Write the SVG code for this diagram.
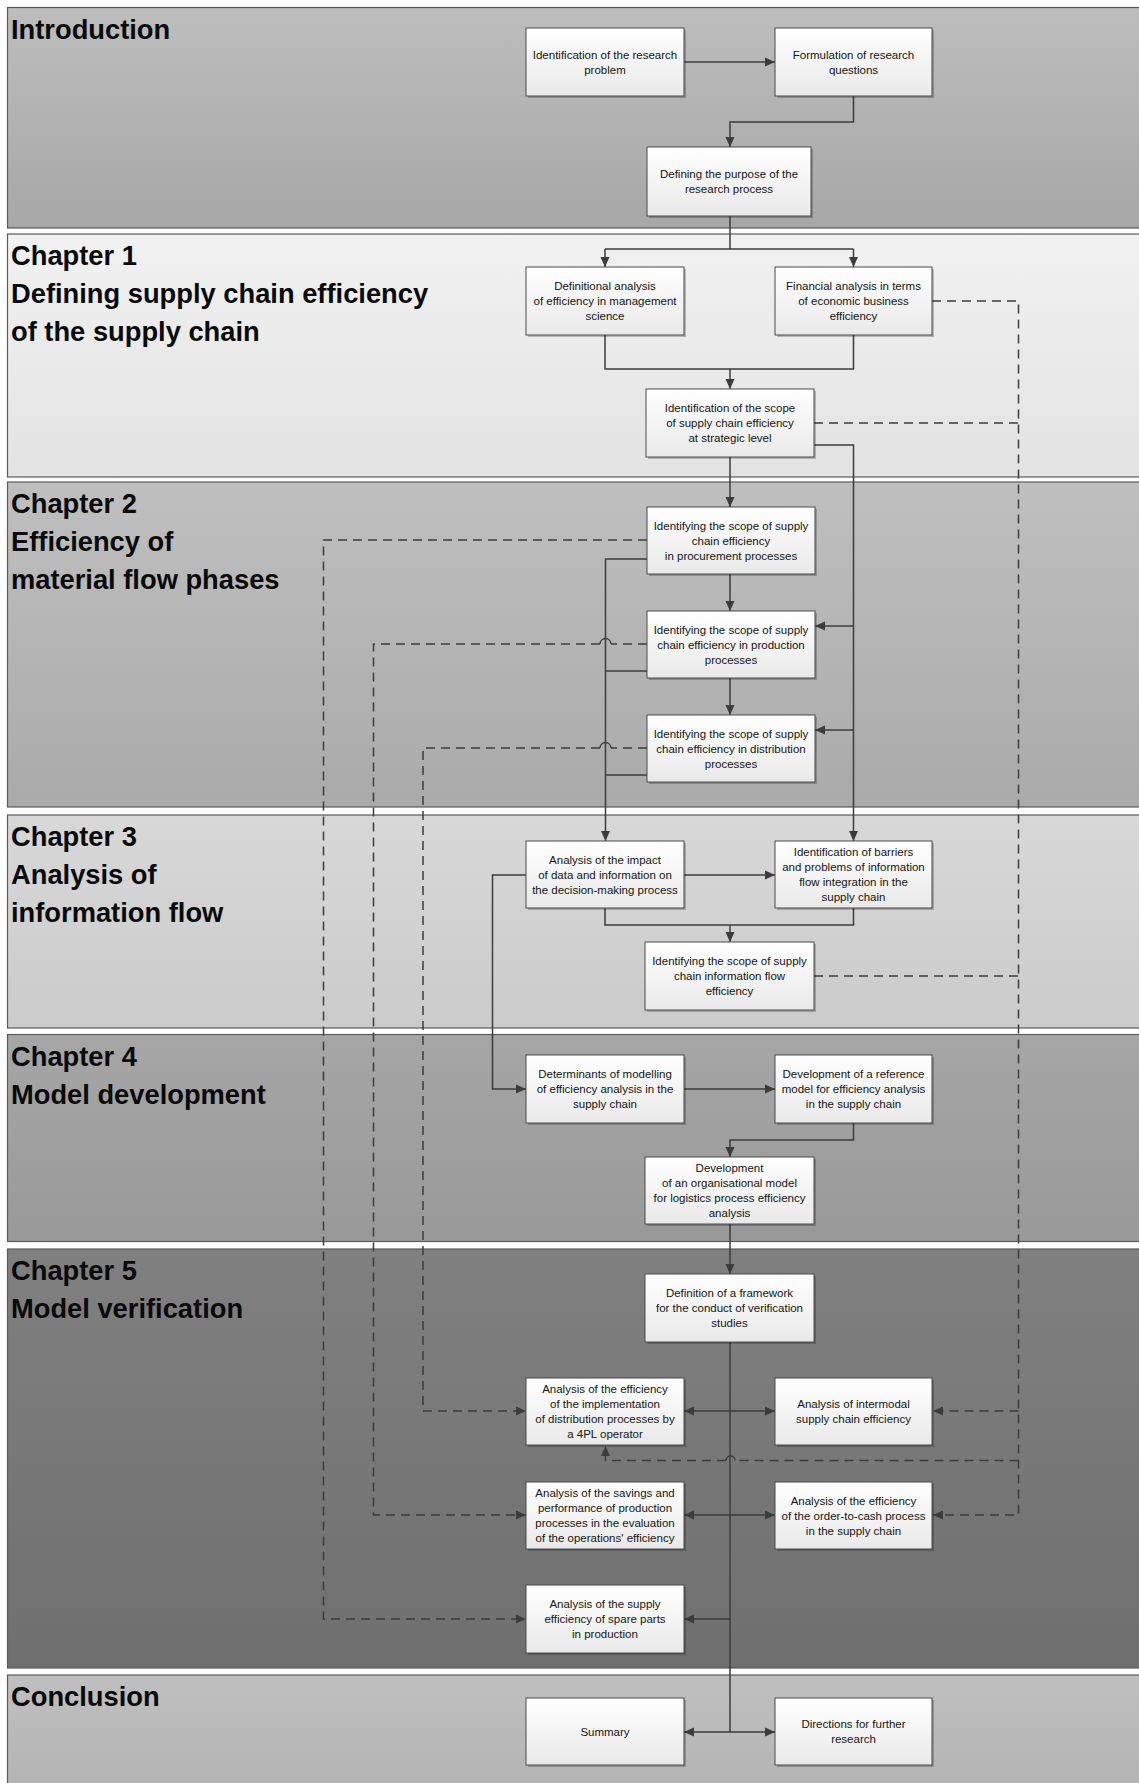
<svg xmlns="http://www.w3.org/2000/svg" width="1139" height="1783" viewBox="0 0 1139 1783">
<style>
.band{stroke:#5a5a5a;stroke-width:1.2}
.title{font-family:"Liberation Sans",Arial,sans-serif;font-weight:bold;font-size:27.3px;fill:#0a0a0a}
.box{fill:url(#gBox);stroke:#4a4a4a;stroke-width:1}
.shadow{fill:#000;opacity:0.22}
.lbl{font-family:"Liberation Sans",Arial,sans-serif;font-size:11.5px;fill:#151515;text-anchor:middle}
.c{fill:none;stroke:#3c3c3c;stroke-width:1.5}
.d{fill:none;stroke:#3c3c3c;stroke-width:1.5;stroke-dasharray:9 6}
.hop{fill:none;stroke:#3c3c3c;stroke-width:1.3}
.a{marker-end:url(#arr)}
</style>
<defs>
<marker id="arr" viewBox="0 0 10 10" refX="10" refY="5" markerWidth="10" markerHeight="10" markerUnits="userSpaceOnUse" orient="auto">
<path d="M0,0.5 L10,5 L0,9.5 z" fill="#3c3c3c"/>
</marker>
<linearGradient id="gBox" x1="0" y1="0" x2="0" y2="1"><stop offset="0" stop-color="#ffffff"/><stop offset="1" stop-color="#e9e9e9"/></linearGradient>
<linearGradient id="gIntro" x1="0" y1="0" x2="0" y2="1"><stop offset="0" stop-color="#bdbdbd"/><stop offset="1" stop-color="#a7a7a7"/></linearGradient>
<linearGradient id="gC1" x1="0" y1="0" x2="0" y2="1"><stop offset="0" stop-color="#f1f1f1"/><stop offset="1" stop-color="#e3e3e3"/></linearGradient>
<linearGradient id="gC2" x1="0" y1="0" x2="0" y2="1"><stop offset="0" stop-color="#bfbfbf"/><stop offset="1" stop-color="#aaaaaa"/></linearGradient>
<linearGradient id="gC3" x1="0" y1="0" x2="0" y2="1"><stop offset="0" stop-color="#d8d8d8"/><stop offset="1" stop-color="#cbcbcb"/></linearGradient>
<linearGradient id="gC4" x1="0" y1="0" x2="0" y2="1"><stop offset="0" stop-color="#a6a6a6"/><stop offset="1" stop-color="#999999"/></linearGradient>
<linearGradient id="gC5" x1="0" y1="0" x2="0" y2="1"><stop offset="0" stop-color="#808080"/><stop offset="1" stop-color="#6f6f6f"/></linearGradient>
<linearGradient id="gCon" x1="0" y1="0" x2="0" y2="1"><stop offset="0" stop-color="#bfbfbf"/><stop offset="1" stop-color="#b3b3b3"/></linearGradient>
</defs>
<rect x="0" y="0" width="1139" height="1783" fill="#ffffff"/>

<g id="lanes">
<g id="lane-intro"><rect class="band" x="7.5" y="7.5" width="1140" height="220.5" fill="url(#gIntro)"/><text class="title" x="11" y="39">Introduction</text></g>
<g id="lane-ch1"><rect class="band" x="7.5" y="234" width="1140" height="243" fill="url(#gC1)"/><text class="title" x="11" y="265">Chapter 1</text><text class="title" x="11" y="303">Defining supply chain efficiency</text><text class="title" x="11" y="341">of the supply chain</text></g>
<g id="lane-ch2"><rect class="band" x="7.5" y="482" width="1140" height="325" fill="url(#gC2)"/><text class="title" x="11" y="513">Chapter 2</text><text class="title" x="11" y="551">Efficiency of</text><text class="title" x="11" y="589">material flow phases</text></g>
<g id="lane-ch3"><rect class="band" x="7.5" y="815" width="1140" height="213" fill="url(#gC3)"/><text class="title" x="11" y="846">Chapter 3</text><text class="title" x="11" y="884">Analysis of</text><text class="title" x="11" y="922">information flow</text></g>
<g id="lane-ch4"><rect class="band" x="7.5" y="1034.5" width="1140" height="207" fill="url(#gC4)"/><text class="title" x="11" y="1066">Chapter 4</text><text class="title" x="11" y="1104">Model development</text></g>
<g id="lane-ch5"><rect class="band" x="7.5" y="1249" width="1140" height="419" fill="url(#gC5)"/><text class="title" x="11" y="1280">Chapter 5</text><text class="title" x="11" y="1318">Model verification</text></g>
<g id="lane-concl"><rect class="band" x="7.5" y="1675" width="1140" height="120" fill="url(#gCon)"/><text class="title" x="11" y="1706">Conclusion</text></g>
</g>

<g id="connectors">
<path class="c a" d="M684,62 H775"/>
<path class="c a" d="M853.5,96 V122 H730 V147"/>
<path class="c" d="M730,216 V249 M605,249 H853.5"/>
<path class="c a" d="M605,249 V267"/>
<path class="c a" d="M853.5,249 V267"/>
<path class="c" d="M605,335 V369 H853.5 V335"/>
<path class="c a" d="M730,369 V389"/>
<path class="c a" d="M730,457 V507"/>
<path class="c a" d="M814,445 H853.5 V841"/>
<path class="c a" d="M853.5,626 H815"/>
<path class="c a" d="M853.5,730 H815"/>
<path class="c a" d="M730,574 V611"/>
<path class="c a" d="M730,678 V715"/>
<path class="c a" d="M647,559 H605.5 V841"/>
<path class="c" d="M647,671 H605.5"/>
<path class="c" d="M647,775 H605.5"/>
<path class="c a" d="M684,875 H775"/>
<path class="c a" d="M526,875 H492.5 V1089 H526"/>
<path class="c" d="M605,908 V925 H853.5 V908"/>
<path class="c a" d="M730,925 V942"/>
<path class="c a" d="M684,1089 H775"/>
<path class="c a" d="M853.5,1123 V1140 H730 V1157"/>
<path class="c a" d="M730,1224 V1274"/>
<path class="c" d="M730,1342 V1732"/>
<path class="c a" d="M730,1411 H684"/>
<path class="c a" d="M730,1411 H775"/>
<path class="c a" d="M730,1515 H684"/>
<path class="c a" d="M730,1515 H775"/>
<path class="c a" d="M730,1619 H684"/>
<path class="c a" d="M730,1732 H684"/>
<path class="c a" d="M730,1732 H775"/>

<path class="d a" d="M932,301 H1018.5 V1515 H933"/>
<path class="d" d="M814,423 H1018.5"/>
<path class="d" d="M814,976 H1018.5"/>
<path class="d a" d="M1018.5,1411 H933"/>
<path class="d" d="M1018.5,1460.5 H735"/>
<path class="hop" d="M735,1460.5 A4.5,4.5 0 0 0 726,1460.5"/>
<path class="d a" d="M726,1460.5 H605.5 V1446"/>
<path class="d a" d="M647,540 H323.5 V1619 H526"/>
<path class="d" d="M647,644 H611"/>
<path class="hop" d="M611,644 A5,5 0 0 0 600,644"/>
<path class="d a" d="M600,644 H373.5 V1515 H526"/>
<path class="d" d="M647,748 H611"/>
<path class="hop" d="M611,748 A5,5 0 0 0 600,748"/>
<path class="d a" d="M600,748 H423 V1411 H526"/>
</g>

<g id="n1"><rect class="shadow" x="528" y="30" width="158" height="68"/><rect class="box" x="526" y="28" width="158" height="68"/><text class="lbl"><tspan x="605" y="58.5">Identification of the research</tspan><tspan x="605" y="73.5">problem</tspan></text></g>
<g id="n2"><rect class="shadow" x="777" y="30" width="157" height="68"/><rect class="box" x="775" y="28" width="157" height="68"/><text class="lbl"><tspan x="853.5" y="58.5">Formulation of research</tspan><tspan x="853.5" y="73.5">questions</tspan></text></g>
<g id="n3"><rect class="shadow" x="649" y="149" width="164" height="69"/><rect class="box" x="647" y="147" width="164" height="69"/><text class="lbl"><tspan x="729" y="178">Defining the purpose of the</tspan><tspan x="729" y="193">research process</tspan></text></g>
<g id="n4"><rect class="shadow" x="528" y="269" width="158" height="68"/><rect class="box" x="526" y="267" width="158" height="68"/><text class="lbl"><tspan x="605" y="290">Definitional analysis</tspan><tspan x="605" y="305">of efficiency in management</tspan><tspan x="605" y="320">science</tspan></text></g>
<g id="n5"><rect class="shadow" x="777" y="269" width="157" height="68"/><rect class="box" x="775" y="267" width="157" height="68"/><text class="lbl"><tspan x="853.5" y="290">Financial analysis in terms</tspan><tspan x="853.5" y="305">of economic business</tspan><tspan x="853.5" y="320">efficiency</tspan></text></g>
<g id="n6"><rect class="shadow" x="648" y="391" width="168" height="68"/><rect class="box" x="646" y="389" width="168" height="68"/><text class="lbl"><tspan x="730" y="412">Identification of the scope</tspan><tspan x="730" y="427">of supply chain efficiency</tspan><tspan x="730" y="442">at strategic level</tspan></text></g>
<g id="n7"><rect class="shadow" x="649" y="509" width="168" height="67"/><rect class="box" x="647" y="507" width="168" height="67"/><text class="lbl"><tspan x="731" y="529.5">Identifying the scope of supply</tspan><tspan x="731" y="544.5">chain efficiency</tspan><tspan x="731" y="559.5">in procurement processes</tspan></text></g>
<g id="n8"><rect class="shadow" x="649" y="613" width="168" height="67"/><rect class="box" x="647" y="611" width="168" height="67"/><text class="lbl"><tspan x="731" y="633.5">Identifying the scope of supply</tspan><tspan x="731" y="648.5">chain efficiency in production</tspan><tspan x="731" y="663.5">processes</tspan></text></g>
<g id="n9"><rect class="shadow" x="649" y="717" width="168" height="67"/><rect class="box" x="647" y="715" width="168" height="67"/><text class="lbl"><tspan x="731" y="737.5">Identifying the scope of supply</tspan><tspan x="731" y="752.5">chain efficiency in distribution</tspan><tspan x="731" y="767.5">processes</tspan></text></g>
<g id="n10"><rect class="shadow" x="528" y="843" width="158" height="67"/><rect class="box" x="526" y="841" width="158" height="67"/><text class="lbl"><tspan x="605" y="863.5">Analysis of the impact</tspan><tspan x="605" y="878.5">of data and information on</tspan><tspan x="605" y="893.5">the decision-making process</tspan></text></g>
<g id="n11"><rect class="shadow" x="777" y="843" width="157" height="67"/><rect class="box" x="775" y="841" width="157" height="67"/><text class="lbl"><tspan x="853.5" y="856">Identification of barriers</tspan><tspan x="853.5" y="871">and problems of information</tspan><tspan x="853.5" y="886">flow integration in the</tspan><tspan x="853.5" y="901">supply chain</tspan></text></g>
<g id="n12"><rect class="shadow" x="647" y="944" width="169" height="68"/><rect class="box" x="645" y="942" width="169" height="68"/><text class="lbl"><tspan x="729.5" y="965">Identifying the scope of supply</tspan><tspan x="729.5" y="980">chain information flow</tspan><tspan x="729.5" y="995">efficiency</tspan></text></g>
<g id="n13"><rect class="shadow" x="528" y="1057" width="158" height="68"/><rect class="box" x="526" y="1055" width="158" height="68"/><text class="lbl"><tspan x="605" y="1078">Determinants of modelling</tspan><tspan x="605" y="1093">of efficiency analysis in the</tspan><tspan x="605" y="1108">supply chain</tspan></text></g>
<g id="n14"><rect class="shadow" x="777" y="1057" width="157" height="68"/><rect class="box" x="775" y="1055" width="157" height="68"/><text class="lbl"><tspan x="853.5" y="1078">Development of a reference</tspan><tspan x="853.5" y="1093">model for efficiency analysis</tspan><tspan x="853.5" y="1108">in the supply chain</tspan></text></g>
<g id="n15"><rect class="shadow" x="647" y="1159" width="169" height="67"/><rect class="box" x="645" y="1157" width="169" height="67"/><text class="lbl"><tspan x="729.5" y="1172">Development</tspan><tspan x="729.5" y="1187">of an organisational model</tspan><tspan x="729.5" y="1202">for logistics process efficiency</tspan><tspan x="729.5" y="1217">analysis</tspan></text></g>
<g id="n16"><rect class="shadow" x="647" y="1276" width="169" height="68"/><rect class="box" x="645" y="1274" width="169" height="68"/><text class="lbl"><tspan x="729.5" y="1297">Definition of a framework</tspan><tspan x="729.5" y="1312">for the conduct of verification</tspan><tspan x="729.5" y="1327">studies</tspan></text></g>
<g id="n17"><rect class="shadow" x="528" y="1380" width="158" height="67"/><rect class="box" x="526" y="1378" width="158" height="67"/><text class="lbl"><tspan x="605" y="1393">Analysis of the efficiency</tspan><tspan x="605" y="1408">of the implementation</tspan><tspan x="605" y="1423">of distribution processes by</tspan><tspan x="605" y="1438">a 4PL operator</tspan></text></g>
<g id="n18"><rect class="shadow" x="777" y="1380" width="157" height="67"/><rect class="box" x="775" y="1378" width="157" height="67"/><text class="lbl"><tspan x="853.5" y="1408">Analysis of intermodal</tspan><tspan x="853.5" y="1423">supply chain efficiency</tspan></text></g>
<g id="n19"><rect class="shadow" x="528" y="1484" width="158" height="67"/><rect class="box" x="526" y="1482" width="158" height="67"/><text class="lbl"><tspan x="605" y="1497">Analysis of the savings and</tspan><tspan x="605" y="1512">performance of production</tspan><tspan x="605" y="1527">processes in the evaluation</tspan><tspan x="605" y="1542">of the operations' efficiency</tspan></text></g>
<g id="n20"><rect class="shadow" x="777" y="1484" width="157" height="67"/><rect class="box" x="775" y="1482" width="157" height="67"/><text class="lbl"><tspan x="853.5" y="1504.5">Analysis of the efficiency</tspan><tspan x="853.5" y="1519.5">of the order-to-cash process</tspan><tspan x="853.5" y="1534.5">in the supply chain</tspan></text></g>
<g id="n21"><rect class="shadow" x="528" y="1587" width="158" height="68"/><rect class="box" x="526" y="1585" width="158" height="68"/><text class="lbl"><tspan x="605" y="1608">Analysis of the supply</tspan><tspan x="605" y="1623">efficiency of spare parts</tspan><tspan x="605" y="1638">in production</tspan></text></g>
<g id="n22"><rect class="shadow" x="528" y="1700" width="158" height="67"/><rect class="box" x="526" y="1698" width="158" height="67"/><text class="lbl"><tspan x="605" y="1735.5">Summary</tspan></text></g>
<g id="n23"><rect class="shadow" x="777" y="1700" width="157" height="67"/><rect class="box" x="775" y="1698" width="157" height="67"/><text class="lbl"><tspan x="853.5" y="1728">Directions for further</tspan><tspan x="853.5" y="1743">research</tspan></text></g>
</svg>
